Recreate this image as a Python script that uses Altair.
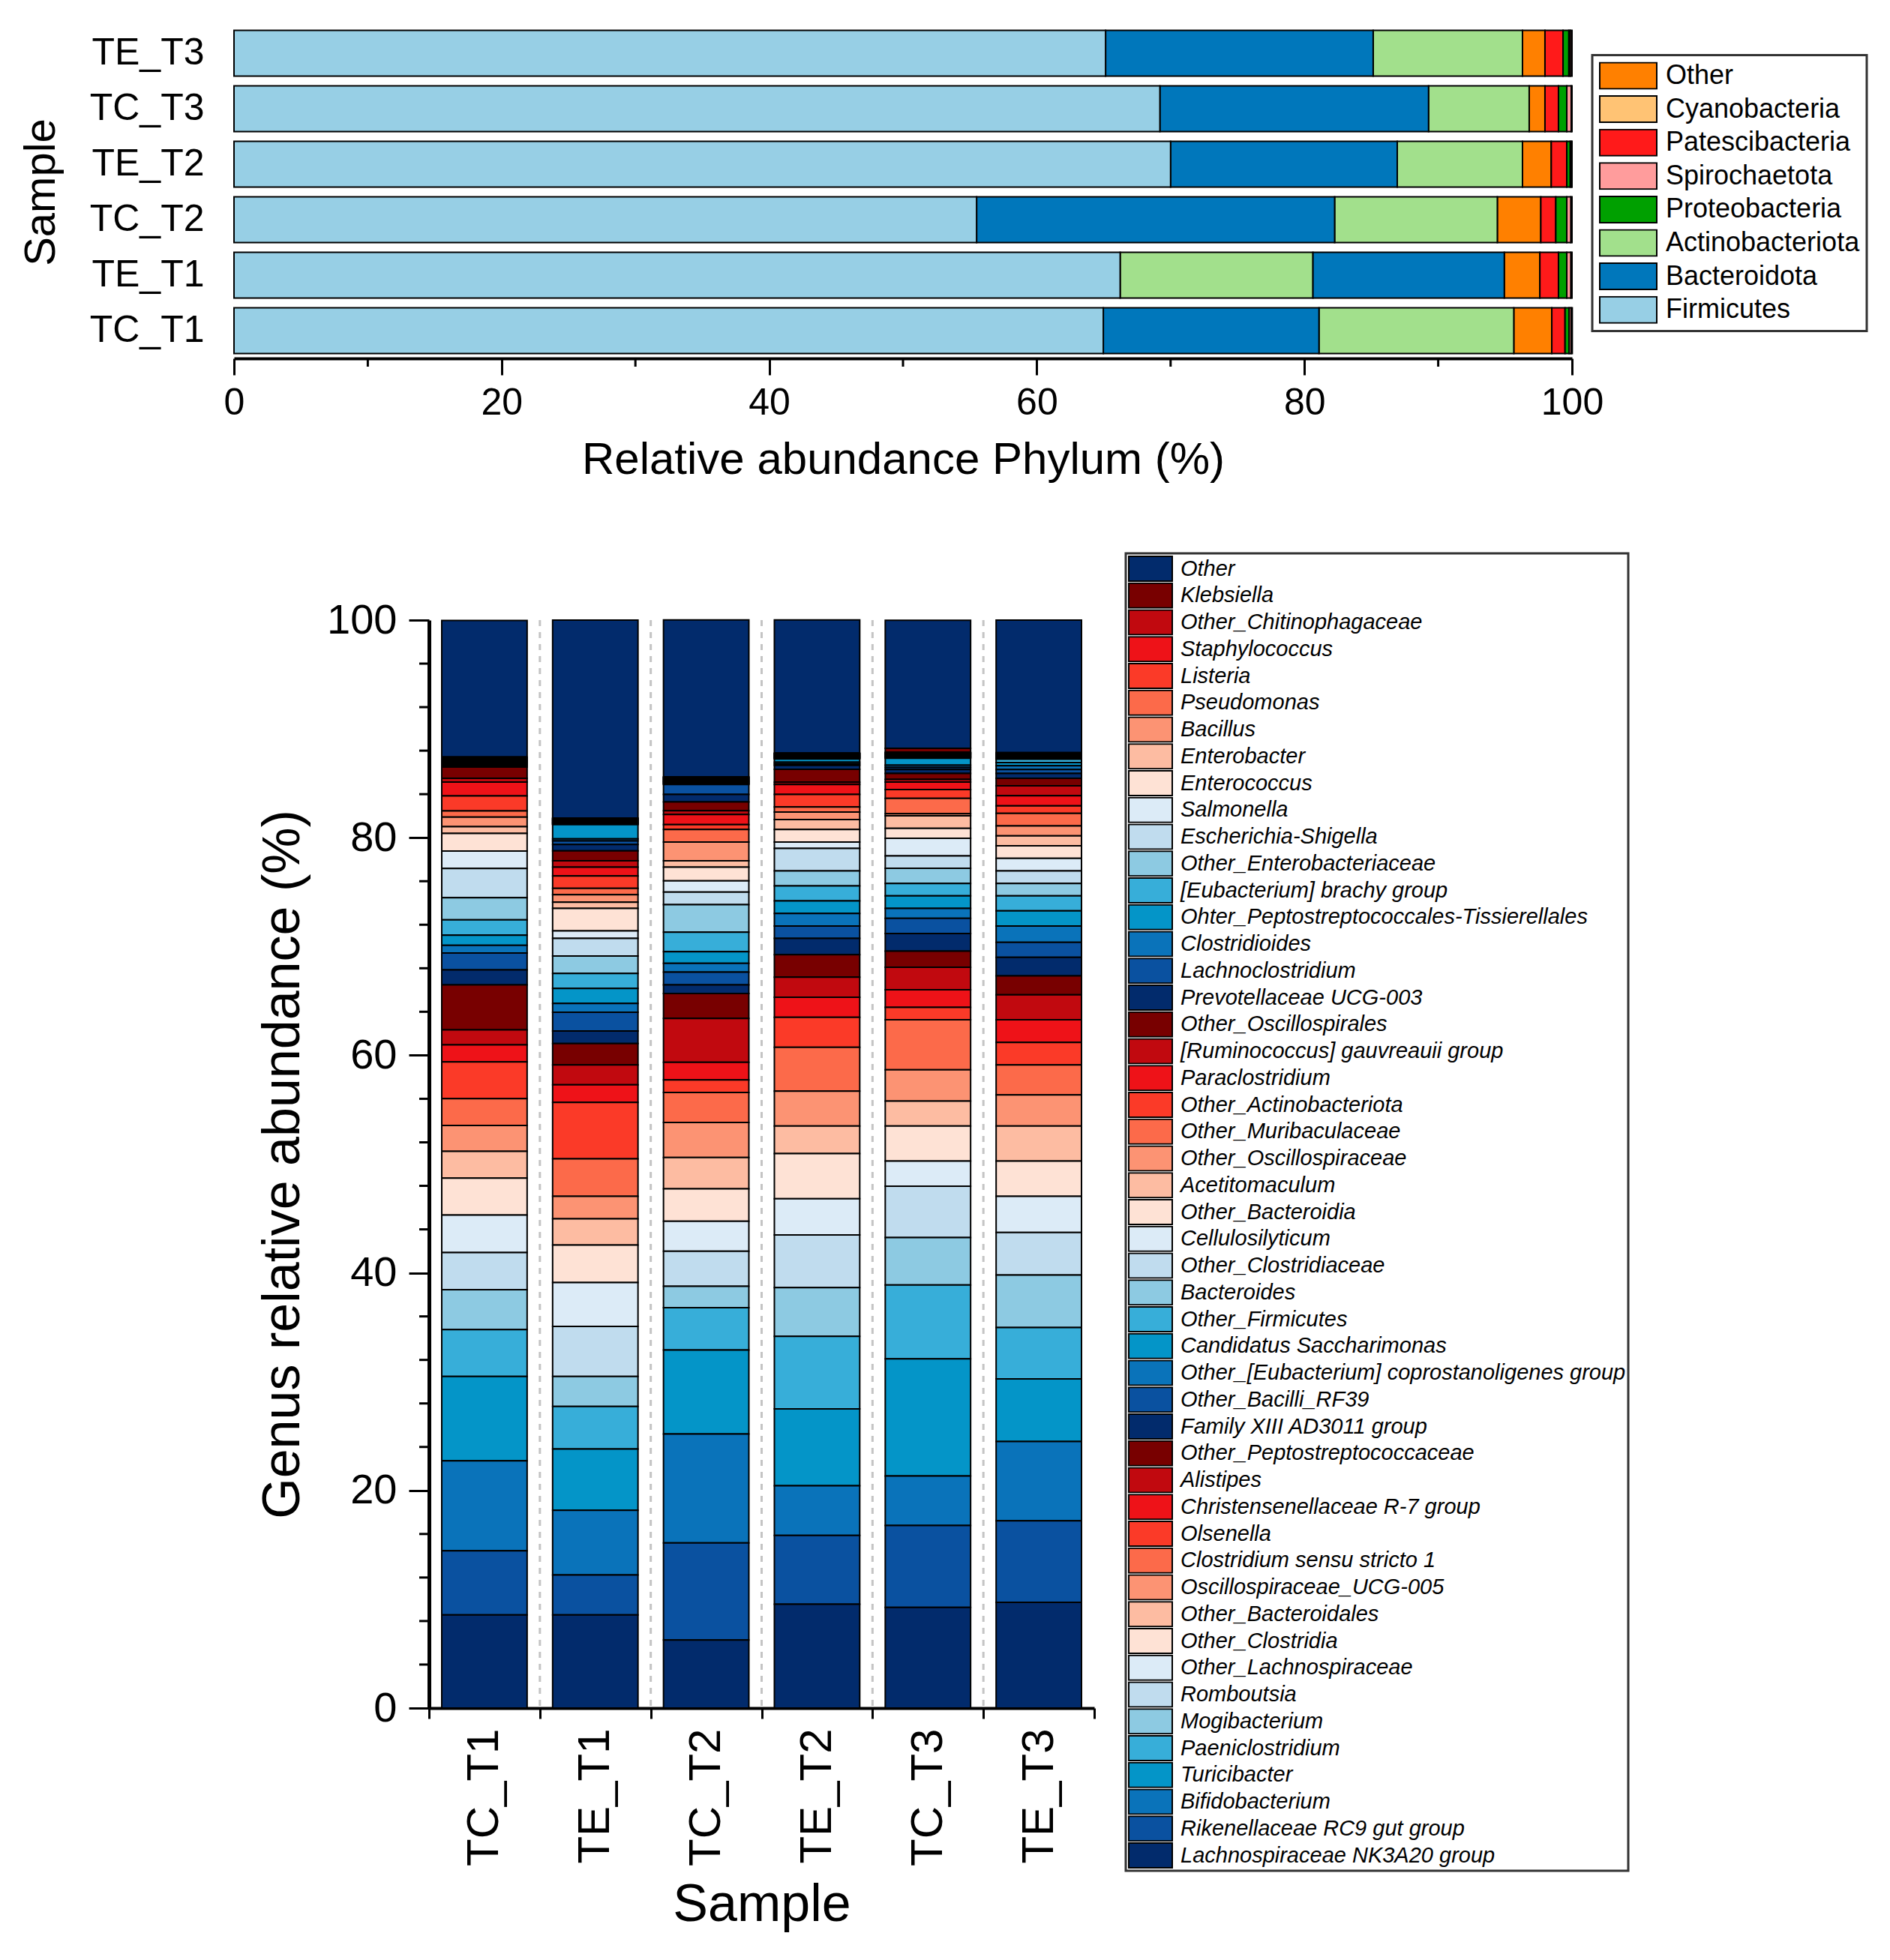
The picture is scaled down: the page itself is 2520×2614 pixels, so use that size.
import altair as alt
import pandas as pd

# ---------------- data: phylum (top chart) ----------------
samples = ["TC_T1", "TE_T1", "TC_T2", "TE_T2", "TC_T3", "TE_T3"]
phylum_row_order = ["TE_T3", "TC_T3", "TE_T2", "TC_T2", "TE_T1", "TC_T1"]

phyla = ["Other", "Cyanobacteria", "Patescibacteria", "Spirochaetota",
         "Proteobacteria", "Actinobacteriota", "Bacteroidota", "Firmicutes"]
phylum_colors = ["#FF8000", "#FFC374", "#FF1A1A", "#FF9C9C",
                 "#00A000", "#A2E08C", "#0077BB", "#97CFE5"]

# values per phylum, in sample order TC_T1, TE_T1, TC_T2, TE_T2, TC_T3, TE_T3
firmicutes = [64.97, 66.23, 55.50, 70.00, 69.20, 65.14]
bacteroidota = [16.12, 14.30, 26.76, 16.94, 20.08, 20.00]
actinobacteriota = [14.56, 14.41, 12.16, 9.36, 7.52, 11.16]
other_phylum = [2.84, 2.66, 3.25, 2.15, 1.18, 1.68]
patescibacteria = [0.99, 1.39, 1.12, 1.16, 1.01, 1.35]
proteobacteria = [0.30, 0.62, 0.82, 0.25, 0.62, 0.43]
spirochaetota = [0.15, 0.30, 0.30, 0.10, 0.33, 0.12]
cyanobacteria = [0.09, 0.09, 0.09, 0.04, 0.06, 0.12]

x_major_ticks = [0, 20, 40, 60, 80, 100]
x_minor_ticks = [10, 30, 50, 70, 90]

# ---------------- data: genus (bottom chart) ----------------
genera = [
    "Other", "Klebsiella", "Other_Chitinophagaceae", "Staphylococcus", "Listeria",
    "Pseudomonas", "Bacillus", "Enterobacter", "Enterococcus", "Salmonella",
    "Escherichia-Shigella", "Other_Enterobacteriaceae", "[Eubacterium] brachy group",
    "Ohter_Peptostreptococcales-Tissierellales", "Clostridioides", "Lachnoclostridium",
    "Prevotellaceae UCG-003", "Other_Oscillospirales", "[Ruminococcus] gauvreauii group",
    "Paraclostridium", "Other_Actinobacteriota", "Other_Muribaculaceae",
    "Other_Oscillospiraceae", "Acetitomaculum", "Other_Bacteroidia", "Cellulosilyticum",
    "Other_Clostridiaceae", "Bacteroides", "Other_Firmicutes", "Candidatus Saccharimonas",
    "Other_[Eubacterium] coprostanoligenes group", "Other_Bacilli_RF39",
    "Family XIII AD3011 group", "Other_Peptostreptococcaceae", "Alistipes",
    "Christensenellaceae R-7 group", "Olsenella", "Clostridium sensu stricto 1",
    "Oscillospiraceae_UCG-005", "Other_Bacteroidales", "Other_Clostridia",
    "Other_Lachnospiraceae", "Romboutsia", "Mogibacterium", "Paeniclostridium",
    "Turicibacter", "Bifidobacterium", "Rikenellaceae RC9 gut group",
    "Lachnospiraceae NK3A20 group",
]

navy = "#022B6C"
color_cycle = ["#780000", "#C1090F", "#EE1218", "#FB3A28", "#FC6A4A", "#FC9373",
               "#FDBCA2", "#FEE2D5", "#DCEBF7", "#C0DCEE", "#8DCAE2", "#37AED9",
               "#0495C8", "#0A73BA", "#0A51A0", navy]
genus_colors = [navy] + color_cycle * 3

# values per sample, in legend (genera) order
TC_T1_g = [12.55,
           0.08, 0.04, 0.05, 0.05, 0.05, 0.05, 0.05, 0.05, 0.05, 0.05, 0.05, 0.05, 0.06, 0.06, 0.08, 0.10,
           1.04, 0.35, 1.27, 1.38, 0.57, 0.88, 0.62, 1.61, 1.61, 2.69, 2.03, 1.42, 0.92, 0.71, 1.55, 1.38,
           4.14, 1.38, 1.56, 3.38, 2.46, 2.37, 2.47, 3.40, 3.45, 3.40, 3.68, 4.30, 7.75, 8.28, 5.89, 8.56]
TE_T1_g = [18.20,
           0.05, 0.05, 0.05, 0.05, 0.05, 0.05, 0.05, 0.05, 0.05, 0.05, 0.05, 0.05, 1.30, 0.20, 0.33, 0.58,
           0.92, 0.58, 0.80, 1.15, 0.58, 0.69, 0.57, 2.07, 0.69, 1.61, 1.61, 1.38, 1.38, 0.81, 1.72, 1.15,
           1.96, 1.84, 1.61, 5.18, 3.45, 2.07, 2.41, 3.45, 4.03, 4.60, 2.76, 3.91, 5.64, 5.93, 3.68, 8.56]
TC_T2_g = [14.42,
           0.05, 0.05, 0.05, 0.05, 0.05, 0.05, 0.05, 0.05, 0.05, 0.05, 0.05, 0.05, 0.05, 0.05, 0.92, 0.69,
           0.81, 0.34, 0.92, 0.46, 1.15, 1.73, 0.58, 1.26, 1.03, 1.16, 2.53, 1.79, 1.07, 0.81, 1.16, 0.80,
           2.30, 4.03, 1.61, 1.15, 2.76, 3.22, 2.88, 2.99, 2.76, 3.22, 1.95, 3.91, 7.71, 10.01, 8.92, 6.26]
TE_T2_g = [12.24,
           0.045, 0.045, 0.045, 0.045, 0.045, 0.045, 0.045, 0.045, 0.045, 0.045, 0.045, 0.045, 0.30, 0.15, 0.15, 0.35,
           1.20, 0.20, 0.92, 1.15, 0.46, 0.69, 0.92, 1.15, 0.58, 2.07, 1.38, 1.38, 1.15, 1.15, 1.15, 1.50,
           2.07, 1.84, 1.84, 2.76, 4.02, 3.22, 2.53, 4.15, 3.33, 4.83, 4.49, 6.67, 7.06, 4.56, 6.32, 9.55]
TC_T3_g = [11.78,
           0.35, 0.05, 0.05, 0.05, 0.05, 0.05, 0.05, 0.05, 0.05, 0.05, 0.05, 0.05, 0.65, 0.20, 0.20, 0.35,
           0.55, 0.25, 0.69, 0.81, 1.40, 0.20, 1.15, 0.92, 1.61, 1.15, 1.38, 1.15, 1.15, 0.92, 1.38, 1.63,
           1.48, 2.07, 1.61, 1.15, 4.60, 2.87, 2.30, 3.22, 2.31, 4.71, 4.37, 6.79, 10.76, 4.54, 7.54, 9.25]
TE_T3_g = [12.19,
           0.055, 0.055, 0.055, 0.055, 0.055, 0.055, 0.055, 0.055, 0.055, 0.055, 0.055, 0.30, 0.30, 0.35, 0.35, 0.45,
           0.69, 0.92, 0.92, 0.69, 1.15, 0.92, 0.92, 1.15, 1.15, 1.15, 1.15, 1.38, 1.38, 1.50, 1.38, 1.72,
           1.73, 2.30, 2.07, 2.07, 2.76, 2.87, 3.22, 3.23, 3.33, 3.91, 4.83, 4.72, 5.75, 7.29, 7.50, 9.71]

y_major_ticks = [0, 20, 40, 60, 80, 100]
y_minor_ticks = [4, 8, 12, 16, 24, 28, 32, 36, 44, 48, 52, 56, 64, 68, 72, 76, 84, 88, 92, 96]

# ---------------- tables ----------------
phylum_values = {
    "Other": other_phylum, "Cyanobacteria": cyanobacteria,
    "Patescibacteria": patescibacteria, "Spirochaetota": spirochaetota,
    "Proteobacteria": proteobacteria, "Actinobacteriota": actinobacteriota,
    "Bacteroidota": bacteroidota, "Firmicutes": firmicutes,
}
rows = []
for p in phyla:
    for s, v in zip(samples, phylum_values[p]):
        rows.append({"Sample": s, "Phylum": p, "value": v})
top_df = pd.DataFrame(rows)
top_df["rank"] = top_df.groupby("Sample")["value"].rank(ascending=False, method="first")

genus_values = {"TC_T1": TC_T1_g, "TE_T1": TE_T1_g, "TC_T2": TC_T2_g,
                "TE_T2": TE_T2_g, "TC_T3": TC_T3_g, "TE_T3": TE_T3_g}
rows = []
for s in samples:
    for i, (g, v) in enumerate(zip(genera, genus_values[s])):
        rows.append({"Sample": s, "Genus": g, "value": v, "idx": i})
bot_df = pd.DataFrame(rows)

FONT = "Liberation Sans"

# ---------------- top chart ----------------
W_TOP, H_TOP = 1784, 444

top_x_axis = alt.Axis(values=x_major_ticks, format="d", grid=False, labelFlush=False,
                      tickSize=22, tickWidth=3, tickColor="black",
                      domainColor="black", domainWidth=4,
                      labelFontSize=50, labelPadding=12, labelColor="black",
                      title="Relative abundance Phylum (%)", titleFontSize=60,
                      titleFontWeight="normal", titleColor="black",
                      titleY=135, titleBaseline="middle")
top_x_scale = alt.Scale(domain=[0, 100], nice=False)

top_bars = alt.Chart(top_df).mark_bar(
    stroke="black", strokeWidth=2, height={"band": 0.825}
).encode(
    x=alt.X("value:Q", stack="zero", scale=top_x_scale, axis=top_x_axis),
    y=alt.Y("Sample:N", sort=phylum_row_order,
            scale=alt.Scale(paddingInner=0, paddingOuter=0),
            axis=alt.Axis(domain=False, ticks=False, labelFontSize=50,
                          labelPadding=40, labelColor="black",
                          title="Sample", titleFontSize=58, titleFontWeight="normal",
                          titleColor="black", titleX=-257, titleBaseline="middle")),
    color=alt.Color("Phylum:N",
                    scale=alt.Scale(domain=phyla, range=phylum_colors),
                    legend=alt.Legend(title=None, orient="none", legendX=1811, legendY=39.5,
                                      symbolType="M-1,-0.46H1V0.46H-1Z", symbolSize=5776,
                                      symbolStrokeColor="black", symbolStrokeWidth=2,
                                      symbolOpacity=1, clipHeight=37,
                                      labelFontSize=36, labelFont=FONT, labelColor="black",
                                      labelOffset=11, labelLimit=0, rowPadding=7.6,
                                      padding=9, strokeColor="#333333", fillColor="white",
                                      symbolLimit=100)),
    order=alt.Order("rank:Q", sort="ascending"),
)

top_minor = alt.Chart(pd.DataFrame({"t": x_minor_ticks})).mark_rule(
    color="black", strokeWidth=3
).encode(
    x=alt.X("t:Q", scale=top_x_scale, axis=top_x_axis),
    y=alt.value(H_TOP), y2=alt.value(H_TOP + 11),
)

top = alt.layer(top_bars, top_minor).properties(width=W_TOP, height=H_TOP)

# ---------------- bottom chart ----------------
W_BOT, H_BOT = 887, 1451

bot_y_axis = alt.Axis(values=y_major_ticks, format="d", grid=False, labelFlush=False,
                      tickSize=27, tickWidth=3, tickColor="black",
                      domainColor="black", domainWidth=5,
                      labelFontSize=56, labelPadding=16, labelColor="black",
                      title="Genus relative abundance (%)", titleFontSize=70,
                      titleFontWeight="normal", titleColor="black",
                      titleX=-195, titleBaseline="middle")
bot_y_scale = alt.Scale(domain=[0, 100], nice=False)
bot_x_scale = alt.Scale(paddingInner=0, paddingOuter=0)
bot_x_axis = alt.Axis(labelAngle=270, labelFontSize=60, labelColor="black",
                      labelPadding=13, labelLimit=0, tickBand="extent", tickSize=14,
                      tickWidth=3, tickColor="black", domainColor="black", domainWidth=4,
                      title="Sample", titleFontSize=70, titleFontWeight="normal",
                      titleColor="black", titleY=262, titleBaseline="middle")

separators = alt.Chart(pd.DataFrame({"Sample": samples[1:]})).mark_rule(
    color="#C4C4C4", strokeWidth=3, strokeDash=[8, 8]
).encode(
    x=alt.X("Sample:N", sort=samples, bandPosition=0, scale=bot_x_scale, axis=bot_x_axis),
)

bot_bars = alt.Chart(bot_df).mark_bar(
    stroke="black", strokeWidth=2, width={"band": 0.77}
).encode(
    x=alt.X("Sample:N", sort=samples, scale=bot_x_scale, axis=bot_x_axis),
    y=alt.Y("value:Q", stack="zero", scale=bot_y_scale, axis=bot_y_axis),
    color=alt.Color("Genus:N",
                    scale=alt.Scale(domain=genera, range=genus_colors),
                    legend=alt.Legend(title=None, orient="none", legendX=929, legendY=-89,
                                      symbolType="M-1,-0.57H1V0.57H-1Z", symbolSize=3364,
                                      symbolStrokeColor="black", symbolStrokeWidth=2,
                                      symbolOpacity=1, clipHeight=35,
                                      labelFontSize=29, labelFontStyle="italic",
                                      labelFont=FONT, labelColor="black",
                                      labelOffset=10, labelLimit=0, rowPadding=0.75,
                                      padding=3, strokeColor="#333333", fillColor="white",
                                      symbolLimit=100)),
    order=alt.Order("idx:Q", sort="descending"),
)

bot_minor = alt.Chart(pd.DataFrame({"t": y_minor_ticks})).mark_rule(
    color="black", strokeWidth=3
).encode(
    y=alt.Y("t:Q", scale=bot_y_scale, axis=bot_y_axis),
    x=alt.value(0), x2=alt.value(-13),
)

bottom = alt.layer(separators, bot_bars, bot_minor).properties(width=W_BOT, height=H_BOT)

spacer = alt.Chart(pd.DataFrame({"s": [0]})).mark_point(opacity=0).encode(
    x=alt.value(0), y=alt.value(0)
).properties(width=260, height=10)

bottom_row = alt.hconcat(spacer, bottom, spacing=0, bounds="flush").resolve_scale(
    color="independent"
)

chart = alt.vconcat(top, bottom_row, spacing=349, bounds="flush").resolve_scale(
    color="independent"
).properties(
    padding={"left": 18, "top": 26, "right": 5, "bottom": 5}
).configure(
    font=FONT
).configure_view(
    stroke=None
).configure_legend(
    strokeWidth=3
)

chart.save("out.html", embed_options={"renderer": "svg", "actions": False})
